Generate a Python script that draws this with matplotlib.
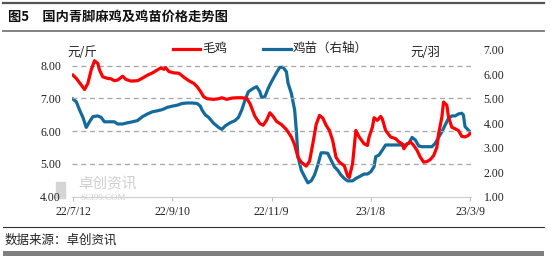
import matplotlib
matplotlib.use("Agg")
import matplotlib.pyplot as plt
from matplotlib.lines import Line2D
import pandas as pd

plt.rcParams['font.family'] = ['Noto Sans CJK SC', 'DejaVu Sans']

start_date = "2022-07-12"
# days since start_date for the 毛鸡 (broiler) series
red_days = [0, 2, 5, 7, 9, 11, 13, 15, 16, 18, 21, 23, 25, 27, 30, 32, 35, 39, 42, 45,
            48, 51, 53, 55, 56, 58, 61, 64, 67, 70, 73, 75, 77, 79, 81, 85, 88, 90, 93, 96,
            99, 102, 105, 107, 110, 113, 115, 117, 119, 121, 123, 126, 129, 132, 134, 136, 138, 141, 143, 145,
            147, 149, 151, 153, 155, 157, 159, 161, 164, 166, 167, 169, 171, 173, 176, 178, 179, 181, 182, 184,
            186, 187, 189, 192, 195, 197, 199, 200, 202, 204, 206, 208, 210, 212, 214, 216, 218, 220, 221, 223,
            224, 226, 227, 229, 231, 233, 235, 237, 239, 240]
red_vals = [7.71, 7.61, 7.41, 7.27, 7.46, 7.87, 8.15, 8.07, 7.87, 7.66, 7.61, 7.60, 7.54, 7.56, 7.68, 7.58, 7.53, 7.54, 7.62, 7.71,
            7.78, 7.87, 7.93, 7.89, 7.94, 7.82, 7.78, 7.77, 7.65, 7.54, 7.46, 7.36, 7.22, 7.05, 6.99, 6.97, 6.99, 7.02, 6.97, 7.01,
            7.02, 7.02, 7.00, 6.84, 6.45, 6.23, 6.18, 6.33, 6.56, 6.45, 6.30, 6.20, 6.05, 5.82, 5.58, 5.20, 5.05, 4.93, 5.08, 5.62,
            6.20, 6.48, 6.40, 6.18, 6.02, 5.71, 5.20, 5.05, 4.94, 4.63, 4.58, 5.00, 6.02, 5.82, 5.61, 5.56, 5.82, 6.12, 6.41, 6.33,
            6.45, 6.37, 6.02, 5.82, 5.77, 5.67, 5.61, 5.46, 5.61, 5.67, 5.56, 5.41, 5.20, 5.05, 5.07, 5.13, 5.25, 5.51, 5.92, 6.43,
            6.89, 6.79, 6.43, 6.12, 6.07, 6.02, 5.84, 5.82, 5.87, 5.92]

# days since start_date for the 鸡苗 (chick) series, right axis
blue_days = [0, 2, 4, 6, 8, 10, 12, 15, 17, 19, 22, 25, 27, 30, 33, 36, 39, 42, 45, 48,
             51, 54, 57, 60, 63, 66, 69, 72, 75, 77, 78, 80, 82, 85, 88, 90, 92, 95, 98, 100,
             102, 104, 106, 109, 111, 113, 114, 116, 118, 120, 123, 125, 127, 129, 130, 132, 134, 135, 136, 138,
             140, 142, 144, 146, 148, 150, 152, 154, 156, 158, 160, 162, 164, 166, 169, 171, 173, 176, 178, 180,
             182, 183, 185, 187, 189, 192, 195, 198, 201, 203, 205, 207, 209, 211, 214, 217, 219, 221, 223, 225,
             227, 229, 231, 233, 235, 236, 237, 239, 240]
blue_vals = [4.99, 4.88, 4.54, 4.24, 3.83, 4.06, 4.27, 4.30, 4.24, 4.06, 4.06, 4.06, 3.97, 3.97, 4.02, 4.06, 4.11, 4.27, 4.38, 4.47,
             4.51, 4.56, 4.65, 4.70, 4.74, 4.81, 4.83, 4.83, 4.81, 4.70, 4.54, 4.34, 4.24, 4.00, 3.83, 3.75, 3.89, 4.02, 4.11, 4.24,
             4.54, 4.95, 5.29, 5.43, 5.50, 5.29, 5.06, 5.09, 5.43, 5.70, 6.07, 6.29, 6.29, 6.11, 5.64, 5.22, 4.54, 3.72, 2.63, 2.08,
             1.81, 1.56, 1.64, 1.88, 2.29, 2.79, 2.79, 2.77, 2.49, 2.22, 2.08, 1.88, 1.74, 1.64, 1.64, 1.74, 1.81, 1.92, 1.92, 2.01,
             2.22, 2.63, 2.70, 2.90, 3.11, 3.11, 3.11, 3.11, 3.11, 3.18, 3.42, 3.31, 3.07, 3.04, 3.04, 3.04, 3.18, 3.42, 3.65, 3.93,
             4.20, 4.30, 4.30, 4.38, 4.41, 4.34, 3.86, 3.72, 3.65]

x_tick_dates = ["2022-07-12", "2022-09-10", "2022-11-09", "2023-01-08", "2023-03-09"]
x_tick_labels = ["22/7/12", "22/9/10", "22/11/9", "23/1/8", "23/3/9"]
left_ticks = [4, 5, 6, 7, 8]
right_ticks = [1, 2, 3, 4, 5, 6, 7]

title = "图5　国内青脚麻鸡及鸡苗价格走势图"
source = "数据来源：卓创资讯"
red_name = "毛鸡"
blue_name = "鸡苗（右轴）"
left_unit = "元/斤"
right_unit = "元/羽"

RED = "#FF0000"
BLUE = "#146A9B"

W, H = 551, 256
fig = plt.figure(figsize=(W / 100, H / 100), dpi=100)

def fx(px):
    return px / W

def fy(py):
    return 1 - py / H

ax_l, ax_r_px, ax_t, ax_b = 72, 471, 50, 196.5
ax = fig.add_axes([fx(ax_l), fy(ax_b), fx(ax_r_px - ax_l), fy(ax_t) - fy(ax_b)])
ax2 = ax.twinx()

t0 = pd.Timestamp(start_date)
red_dates = t0 + pd.to_timedelta(red_days, unit="D")
blue_dates = t0 + pd.to_timedelta(blue_days, unit="D")

ax.plot(red_dates, red_vals, color=RED, lw=2.3, solid_joinstyle="round", zorder=3)
ax2.plot(blue_dates, blue_vals, color=BLUE, lw=2.3, solid_joinstyle="round", zorder=3)
ax.set_zorder(ax2.get_zorder() + 1)
ax.patch.set_visible(False)

ax.set_xlim(t0 - pd.Timedelta(days=0.6), t0 + pd.Timedelta(days=240.6))
ax.set_ylim(4, 8.48)
ax2.set_ylim(1, 7)

# gridlines (left axis)
for v in left_ticks[1:]:
    ax.axhline(v, color="#A6A6A6", lw=0.9, ls=(0, (4, 3)), zorder=1)

tick_font = {"family": ["Liberation Serif", "DejaVu Serif"], "size": 8.5}
ax.set_yticks(left_ticks)
ax.set_yticklabels([f"{v:.2f}" for v in left_ticks], **tick_font, color="#222222")
ax2.set_yticks(right_ticks)
ax2.set_yticklabels([f"{v:.2f}" for v in right_ticks], **tick_font, color="#222222")
ax.set_xticks(pd.to_datetime(x_tick_dates))
ax.set_xticklabels(x_tick_labels, **tick_font, color="#222222")

ax.tick_params(axis="y", length=0, pad=8)
ax2.tick_params(axis="y", length=0, pad=9)
ax.tick_params(axis="x", length=3, width=0.8, color="#BFBFBF", pad=4)

for a in (ax, ax2):
    for s in ("top", "left", "right", "bottom"):
        a.spines[s].set_visible(False)
ax.spines["bottom"].set_visible(True)
ax.spines["bottom"].set_color("#D0D0D0")
ax.spines["bottom"].set_linewidth(0.9)

# legend
fig.add_artist(Line2D([fx(173), fx(200)], [fy(48.5), fy(48.5)], color=RED, lw=2.3))
fig.text(fx(202), fy(48.5), red_name, fontsize=9, va="center", ha="left", color="#222222")
fig.add_artist(Line2D([fx(263), fx(291)], [fy(48.5), fy(48.5)], color=BLUE, lw=2.3))
fig.text(fx(293), fy(48.5), blue_name, fontsize=9, va="center", ha="left", color="#222222")

# units
fig.text(fx(67), fy(53), left_unit, fontsize=9, va="center", ha="left", color="#222222")
fig.text(fx(410), fy(53), right_unit, fontsize=9, va="center", ha="left", color="#222222")

# watermark
fig.text(fx(78), fy(184.5), "卓创资讯", fontsize=10.5, va="center", ha="left", color="#CFCFCF", zorder=0)
fig.text(fx(80), fy(198), "SCI99.COM", fontsize=6.5, va="center", ha="left", color="#CFCFCF",
         family=["Liberation Serif"], zorder=0)
fig.add_artist(plt.Rectangle((fx(56), fy(198)), fx(9), fy(182) - fy(198), color="#D5D5D5", zorder=0))

# title and frame lines
fig.add_artist(Line2D([fx(3), fx(544)], [fy(3.3), fy(3.3)], color="#555555", lw=1.6))
fig.text(fx(8), fy(17), title, fontsize=9.5, fontweight="bold", va="center", ha="left", color="#111111")
fig.add_artist(Line2D([fx(3), fx(544)], [fy(30.7), fy(30.7)], color="#777777", lw=1.3))
fig.add_artist(Line2D([fx(3), fx(544)], [fy(226.7), fy(226.7)], color="#333333", lw=0.8))
fig.text(fx(5), fy(240.5), source, fontsize=9, va="center", ha="left", color="#222222")
fig.add_artist(plt.Rectangle((fx(3), 0), fx(541), fy(251), color="#7F7F7F", lw=0))

fig.savefig("out.png", dpi=100)
